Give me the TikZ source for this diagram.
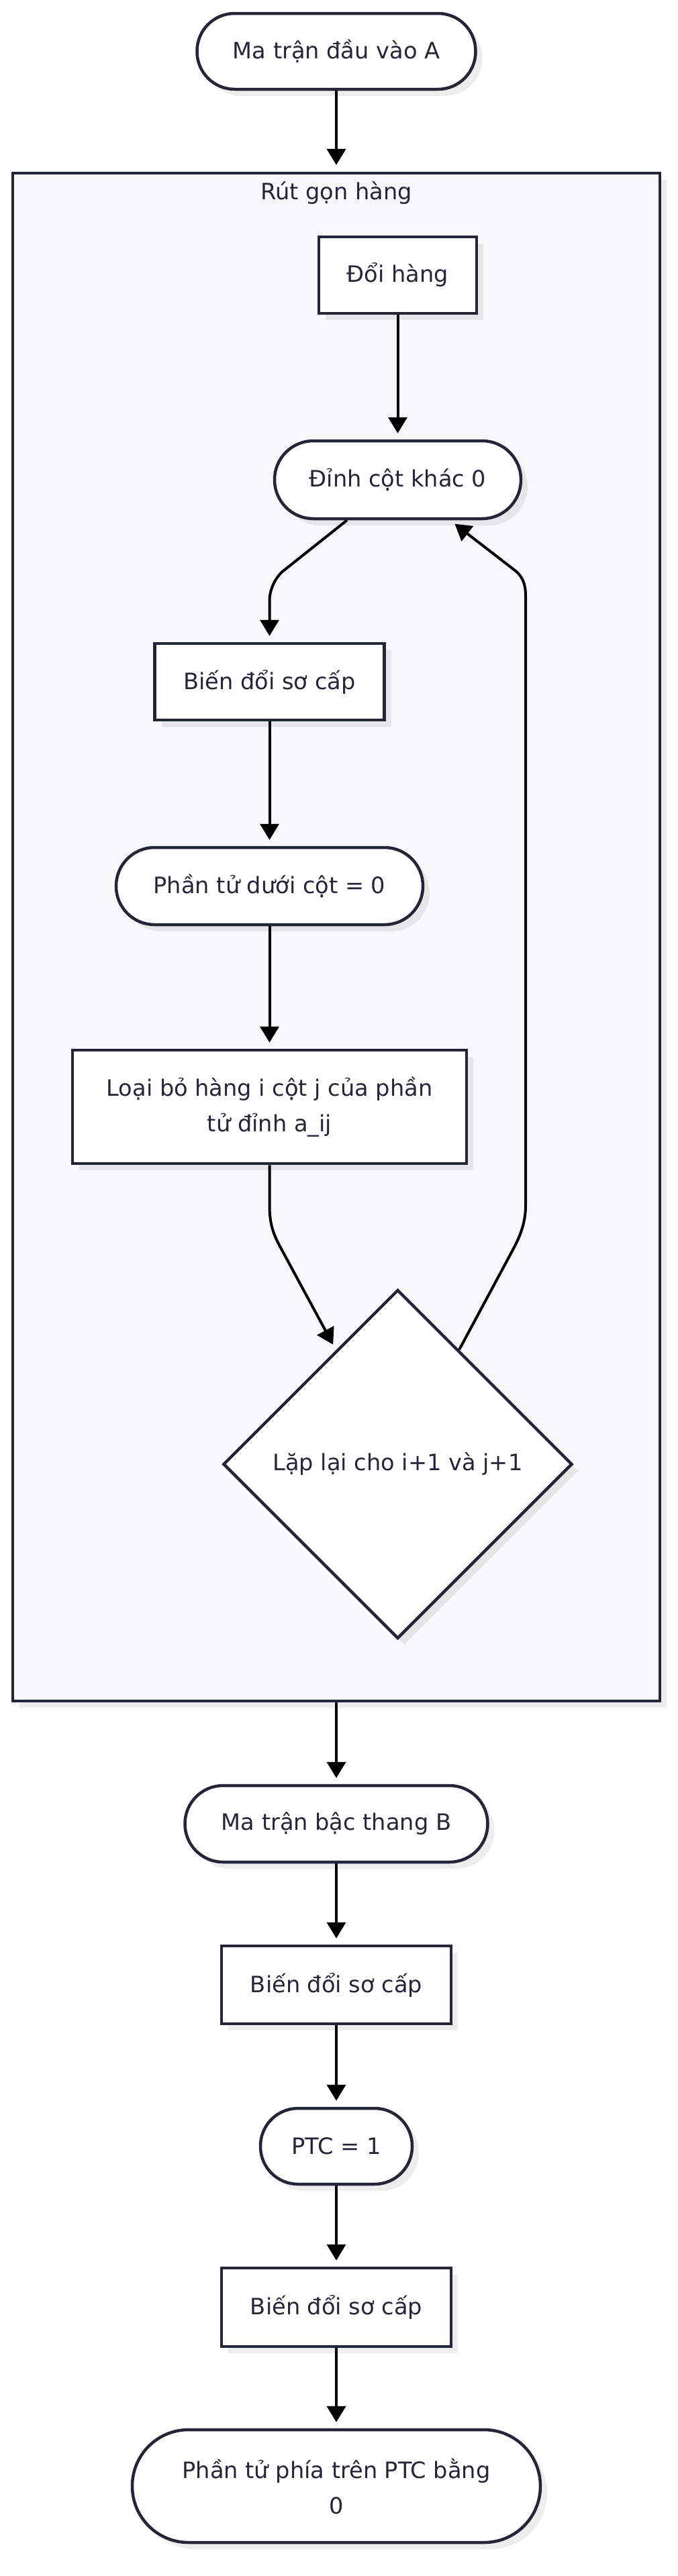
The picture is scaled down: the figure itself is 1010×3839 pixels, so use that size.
\documentclass[tikz,border=0pt]{standalone}
\usepackage{fontspec}
\setmainfont{DejaVu Sans}
\usetikzlibrary{arrows.meta,shapes.geometric,shadows}
\definecolor{ink}{HTML}{25253A}
\definecolor{sgfill}{HTML}{F8F8FA}
\tikzset{
  x=0.5pt, y=-0.5pt,
  lbl/.style={text=ink, font=\fontsize{16.8pt}{26.5pt}\selectfont},
  base/.style={lbl, draw=ink, line width=2.25pt, fill=white, inner sep=0pt, align=center,
    drop shadow={shadow xshift=5pt, shadow yshift=-5pt, fill=black, opacity=0.07}},
  procbox/.style n args={2}{base, rectangle, minimum width=#1, minimum height=#2},
  stadium/.style n args={3}{base, rectangle, rounded corners=#3, minimum width=#1, minimum height=#2},
  decision/.style={base, diamond, aspect=1, minimum width=260pt, minimum height=260pt},
  cluster/.style={draw=ink, line width=2.1pt, fill=sgfill, inner sep=0pt,
    minimum width=482pt, minimum height=1138.5pt,
    drop shadow={shadow xshift=5pt, shadow yshift=-5pt, fill=black, opacity=0.07}},
  edge/.style={draw=black, line width=2pt, -{Triangle[length=12pt,width=14pt]}, shorten >=4.5pt},
}
\begin{document}
\begin{tikzpicture}
\useasboundingbox[fill=white] (0,0) rectangle (1010,3839);

% cluster
\node[cluster] (sg) at (501,1396.5) {};
\node[lbl, anchor=base] (sgt) at (501,297) {Rút gọn hàng};

% nodes
\node[stadium={207.5pt}{56.5pt}{28pt}] (A) at (501,76.5) {Ma trận đầu vào A};
\node[procbox={117.5pt}{57pt}] (Doi) at (592.5,410) {Đổi hàng};
\node[stadium={183.5pt}{58pt}{28.9pt}] (Dinh) at (592.5,715) {Đỉnh cột khác 0};
\node[procbox={171pt}{57pt}] (BD1) at (401.5,1016) {Biến đổi sơ cấp};
\node[stadium={228.5pt}{57.5pt}{28.6pt}] (PT) at (401.5,1320.5) {Phần tử dưới cột = 0};
\node[procbox={293.5pt}{84.5pt}] (LB) at (401.5,1649.5) {Loại bỏ hàng i cột j của phần\\tử đỉnh a\_ij};
\node[decision] (D) at (592.5,2182) {Lặp lại cho i+1 và j+1};
\node[stadium={225.5pt}{57pt}{28.4pt}] (B) at (501,2718) {Ma trận bậc thang B};
\node[procbox={171pt}{58pt}] (BD2) at (501,2958) {Biến đổi sơ cấp};
\node[stadium={113pt}{56.5pt}{28pt}] (PTC) at (501,3198.5) {PTC = 1};
\node[procbox={171pt}{58.5pt}] (BD3) at (501,3438.5) {Biến đổi sơ cấp};
\node[stadium={304pt}{84pt}{41.9pt}] (F) at (501,3705) {Phần tử phía trên PTC bằng\\0};

% bend points
\coordinate (p1) at (423,850);
\coordinate (p2) at (401.5,895);
\coordinate (q1) at (401.5,1797);
\coordinate (q2) at (420,1863);
\coordinate (r1) at (760,1870);
\coordinate (r2) at (783,1797);
\coordinate (r3) at (783,887);
\coordinate (r4) at (767,850);

% edges
\draw[edge, shorten >=5pt] (A) -- (sg);
\draw[edge] (Doi) -- (Dinh);
\draw[edge] (Dinh) -- (p1) .. controls (411,859) and (401.5,878) .. (p2) -- (BD1);
\draw[edge] (BD1) -- (PT);
\draw[edge] (PT) -- (LB);
\draw[edge] (LB) -- (q1) .. controls (401.5,1830) and (410.5,1845) .. (q2) -- (D);
\draw[edge] (D) -- (r1) .. controls (768.4,1854) and (783,1830) .. (r2) -- (r3)
  .. controls (783,872) and (779,859) .. (r4) -- (Dinh);
\draw[edge] (sg) -- (B);
\draw[edge] (B) -- (BD2);
\draw[edge] (BD2) -- (PTC);
\draw[edge] (PTC) -- (BD3);
\draw[edge] (BD3) -- (F);
\end{tikzpicture}
\end{document}
